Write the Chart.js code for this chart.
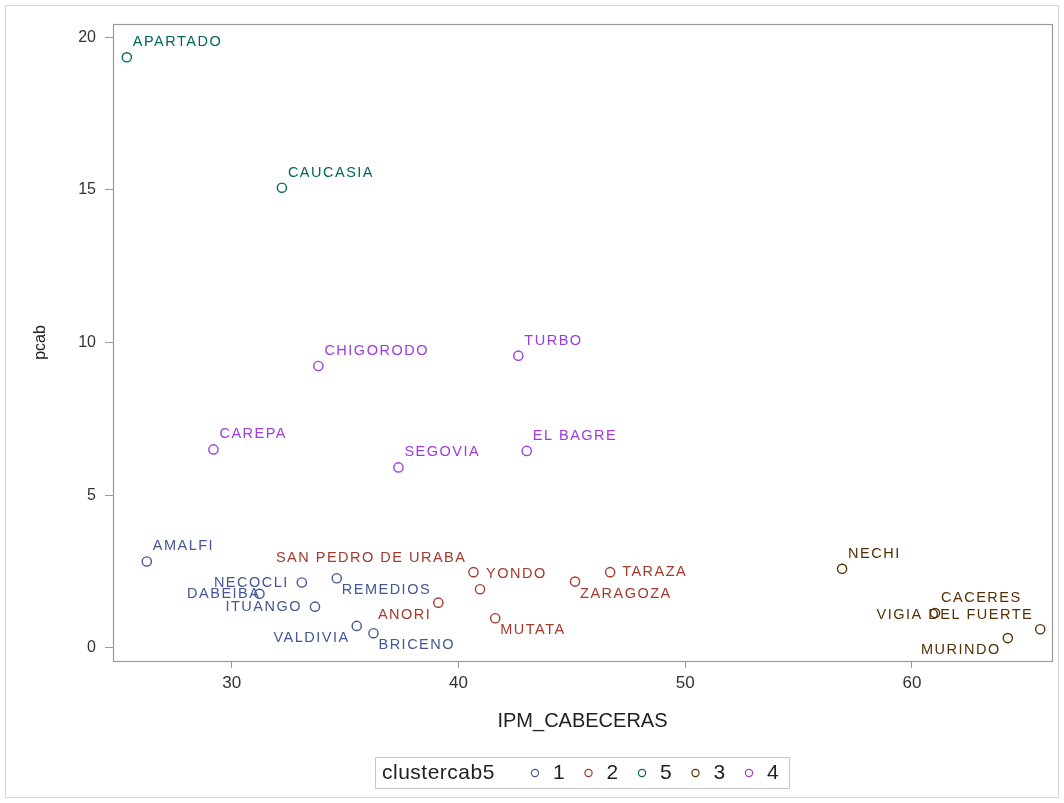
<!DOCTYPE html>
<html>
<head>
<meta charset="utf-8">
<script src="https://cdn.jsdelivr.net/npm/chart.js@4.4.1/dist/chart.umd.min.js"></script>
<style>
  html, body { margin: 0; padding: 0; background: #ffffff; }
  #wrap { width: 1064px; height: 803px; position: relative; }
</style>
</head>
<body>
<div id="wrap"><canvas id="c" width="1064" height="803"></canvas></div>
<script>
// ---------------- data ----------------
const names = ["APARTADO","CAUCASIA","CHIGORODO","TURBO","CAREPA","SEGOVIA","EL BAGRE",
  "AMALFI","NECOCLI","REMEDIOS","DABEIBA","ITUANGO","VALDIVIA","BRICENO",
  "SAN PEDRO DE URABA","YONDO","ANORI","MUTATA","ZARAGOZA","TARAZA",
  "NECHI","CACERES","VIGIA DEL FUERTE","MURINDO"];
const ipmCabeceras = [25.37,32.21,33.82,42.64,29.19,37.35,43.01,
  26.25,33.09,34.63,31.22,33.67,35.51,36.25,
  40.66,40.95,39.11,41.62,45.14,46.69,
  56.92,61.02,65.66,64.23];
const pcab = [19.34,15.07,9.23,9.57,6.50,5.91,6.45,
  2.83,2.14,2.28,1.77,1.35,0.72,0.48,
  2.48,1.92,1.48,0.97,2.17,2.48,
  2.59,1.14,0.61,0.32];
const clusterOf = [5,5,4,4,4,4,4,
  1,1,1,1,1,1,1,
  2,2,2,2,2,2,
  3,3,3,3];
const clusterOrder = [1,2,5,3,4];           // legend order
const xTicks = [30,40,50,60];
const yTicks = [0,5,10,15,20];
const xRange = [24.76, 66.18];
const yRange = [-0.43, 20.43];

// label placement codes (style, not data)
const labelPlace = ["tr","tr","tr","tr","tr","tr","tr",
  "tr","l","br","l0","l","bl","br",
  "tl","tr","bl","br","br","r",
  "tr","tr","tl","bl"];
const clusterColors = {1:"#445694", 2:"#A23A2E", 5:"#01665E", 3:"#543005", 4:"#9D3CDB"};

// ---------------- datasets ----------------
const datasets = clusterOrder.map(k => {
  const pts = [];
  names.forEach((n, i) => {
    if (clusterOf[i] === k) pts.push({x: ipmCabeceras[i], y: pcab[i], name: n, place: labelPlace[i]});
  });
  return {
    label: String(k),
    data: pts,
    borderColor: clusterColors[k],
    backgroundColor: "rgba(0,0,0,0)",
    pointStyle: "circle",
    pointRadius: 4.6,
    pointHoverRadius: 4.6,
    pointBorderWidth: 1.4,
    showLine: false
  };
});

const FONT = "'Liberation Sans', Arial, sans-serif";

const framePlugin = {
  id: "frame",
  beforeDraw(chart) {
    const ctx = chart.ctx;
    ctx.save();
    ctx.strokeStyle = "#d6d6d6";
    ctx.lineWidth = 1;
    ctx.strokeRect(5.5, 5.5, 1053, 792);
    ctx.restore();
  },
  afterDraw(chart) {
    const ctx = chart.ctx;
    const a = chart.chartArea;
    ctx.save();
    ctx.strokeStyle = "#9a9a9a";
    ctx.lineWidth = 1.2;
    ctx.strokeRect(Math.round(a.left) + 0.5, Math.round(a.top) + 0.5,
      Math.round(a.right - a.left), Math.round(a.bottom - a.top));
    ctx.restore();
  }
};

const labelPlugin = {
  id: "pointLabels",
  afterDatasetsDraw(chart) {
    const ctx = chart.ctx;
    const xs = chart.scales.x, ys = chart.scales.y;
    ctx.save();
    ctx.font = "14.5px " + FONT;
    ctx.letterSpacing = "1.5px";
    ctx.textBaseline = "middle";
    chart.data.datasets.forEach(ds => {
      ctx.fillStyle = ds.borderColor;
      ds.data.forEach(p => {
        const cx = xs.getPixelForValue(p.x), cy = ys.getPixelForValue(p.y);
        let tx, ty, align;
        switch (p.place) {
          case "tr": tx = cx + 6; ty = cy - 15; align = "left"; break;
          case "tl": tx = cx - 7; ty = cy - 14; align = "right"; break;
          case "br": tx = cx + 5; ty = cy + 12; align = "left"; break;
          case "bl": tx = cx - 7; ty = cy + 12; align = "right"; break;
          case "r":  tx = cx + 12; ty = cy; align = "left"; break;
          case "l":  tx = cx - 13; ty = cy; align = "right"; break;
          case "l0": tx = cx + 1; ty = cy; align = "right"; break;
        }
        ctx.textAlign = align;
        ctx.fillText(p.name, tx, ty);
      });
    });
    ctx.restore();
  }
};

const legendPlugin = {
  id: "boxLegend",
  afterDraw(chart) {
    const ctx = chart.ctx;
    ctx.save();
    ctx.strokeStyle = "#c8c8c8";
    ctx.lineWidth = 1;
    ctx.strokeRect(375.5, 757.5, 414, 31);
    ctx.font = "21px " + FONT;
    ctx.letterSpacing = "0.5px";
    ctx.fillStyle = "#222";
    ctx.textBaseline = "middle";
    ctx.textAlign = "left";
    ctx.fillText("clustercab5", 382, 773);
    chart.data.datasets.forEach((ds, i) => {
      const cx = 535 + i * 53.5;
      ctx.beginPath();
      ctx.strokeStyle = ds.borderColor;
      ctx.lineWidth = 1.2;
      ctx.arc(cx, 773, 3.6, 0, Math.PI * 2);
      ctx.stroke();
      ctx.fillStyle = "#222";
      ctx.textAlign = "center";
      ctx.fillText(ds.label, cx + 24, 773);
      ctx.textAlign = "left";
    });
    ctx.restore();
  }
};

new Chart(document.getElementById("c"), {
  type: "scatter",
  data: { datasets },
  plugins: [framePlugin, labelPlugin, legendPlugin],
  options: {
    responsive: false,
    devicePixelRatio: 1,
    animation: false,
    layout: { padding: { left: 0, top: 24, right: 12, bottom: 70 } },
    plugins: { legend: { display: false }, tooltip: { enabled: false } },
    scales: {
      x: {
        type: "linear",
        min: xRange[0], max: xRange[1],
        afterBuildTicks: s => { s.ticks = xTicks.map(v => ({ value: v })); },
        afterFit: s => { s.height = 72; },
        grid: { drawOnChartArea: false, drawTicks: true, tickLength: 7, color: "#9a9a9a" },
        border: { display: false },
        ticks: { padding: 5, color: "#333", font: { family: FONT, size: 17 } },
        title: { display: true, text: "IPM_CABECERAS", color: "#222",
                 font: { family: FONT, size: 20 }, padding: { top: 0, bottom: 0 } }
      },
      y: {
        type: "linear",
        min: yRange[0], max: yRange[1],
        afterBuildTicks: s => { s.ticks = yTicks.map(v => ({ value: v })); },
        afterFit: s => { s.width = 113; },
        grid: { drawOnChartArea: false, drawTicks: true, tickLength: 8, color: "#9a9a9a" },
        border: { display: false },
        ticks: { padding: 9, color: "#333", font: { family: FONT, size: 16 } },
        title: { display: true, text: "pcab", color: "#222",
                 font: { family: FONT, size: 16 }, padding: { top: 31, bottom: 0 } }
      }
    }
  }
});
</script>
</body>
</html>
